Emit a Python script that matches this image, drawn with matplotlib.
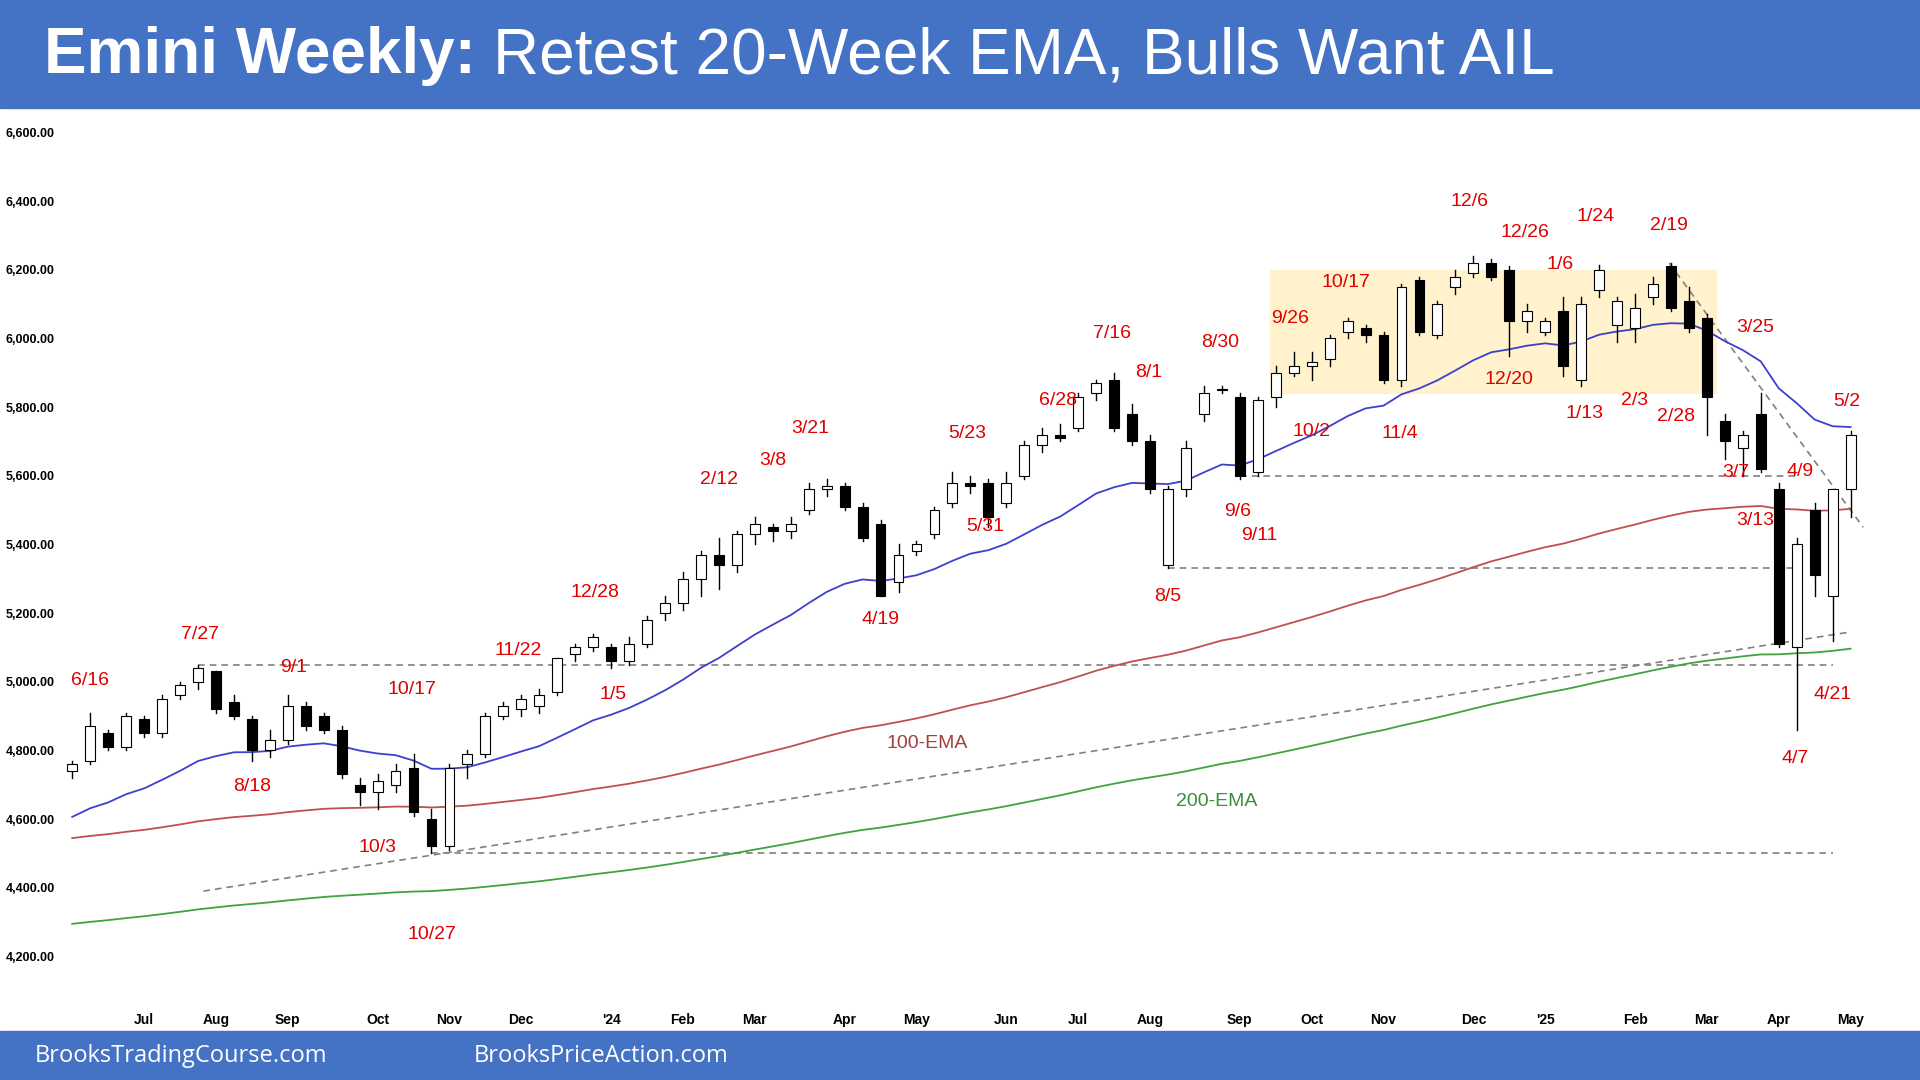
import numpy as np
import pandas as pd
import matplotlib
matplotlib.use("Agg")
import matplotlib.pyplot as plt
from matplotlib.patches import Rectangle

start_week = "2023-06-05"
opens = [4740,4770,4850,4810,4890,4850,4960,5000,5030,4940,4890,4800,4830,4930,4900,4860,4700,4680,4700,4750,
         4600,4520,4760,4790,4900,4920,4930,4970,5080,5100,5100,5060,5110,5200,5230,5300,5370,5340,5430,5450,
         5440,5500,5560,5570,5510,5460,5290,5380,5430,5520,5580,5580,5520,5600,5690,5720,5740,5840,5880,5780,
         5700,5340,5560,5780,5850,5830,5610,5830,5900,5920,5940,6020,6030,6010,5880,6170,6010,6150,6190,6220,
         6200,6050,6020,6080,5880,6140,6040,6030,6120,6210,6110,6060,5760,5680,5780,5560,5100,5500,5250,5560]
highs = [4770,4910,4860,4910,4900,4960,5000,5050,5030,4960,4900,4860,4960,4940,4910,4870,4720,4730,4760,4790,
         4630,4760,4800,4910,4940,4960,4980,5070,5110,5140,5110,5130,5190,5250,5320,5380,5420,5440,5480,5460,
         5480,5580,5590,5580,5520,5470,5400,5410,5510,5610,5600,5590,5610,5700,5740,5750,5840,5880,5900,5810,
         5720,5570,5700,5860,5860,5840,5830,5920,5960,5960,6010,6060,6040,6020,6160,6180,6110,6200,6240,6230,
         6210,6100,6060,6120,6120,6215,6120,6130,6180,6220,6150,6070,5780,5730,5840,5580,5420,5520,5560,5730]
lows = [4720,4760,4800,4800,4840,4840,4950,4980,4910,4890,4770,4780,4820,4860,4850,4720,4640,4630,4680,4610,
        4500,4510,4720,4780,4890,4900,4910,4960,5060,5090,5040,5050,5100,5180,5210,5250,5270,5320,5400,5410,
        5420,5490,5540,5500,5410,5250,5260,5370,5420,5510,5550,5450,5510,5590,5670,5700,5730,5820,5730,5690,
        5550,5330,5540,5760,5840,5590,5600,5800,5890,5880,5920,6000,5990,5870,5860,6010,6000,6130,6180,6170,
        5950,6020,6010,5890,5860,6120,5990,5990,6100,6080,6020,5720,5650,5600,5610,5100,4860,5250,5120,5480]
closes = [4760,4870,4810,4900,4850,4950,4990,5040,4920,4900,4800,4830,4930,4870,4860,4730,4680,4710,4740,4620,
          4520,4750,4790,4900,4930,4950,4960,5070,5100,5130,5060,5110,5180,5230,5300,5370,5340,5430,5460,5440,
          5460,5560,5570,5510,5420,5250,5370,5400,5500,5580,5570,5480,5580,5690,5720,5710,5830,5870,5740,5700,
          5560,5560,5680,5840,5850,5600,5820,5900,5920,5930,6000,6050,6010,5880,6150,6020,6100,6180,6220,6180,
          6050,6080,6050,5920,6100,6200,6110,6090,6160,6090,6030,5830,5700,5720,5620,5110,5400,5310,5560,5720]
ema_seeds = {20: 4590, 100: 4540, 200: 4290}
ytick_values = [4200,4400,4600,4800,5000,5200,5400,5600,5800,6000,6200,6400,6600]

labels = [("6/16",1.0,5003),("7/27",7.1,5138),("9/1",12.3,5042),("8/18",10.0,4696),("10/17",18.9,4978),
          ("10/3",17.0,4518),("10/27",20.0,4265),("11/22",24.8,5092),("12/28",29.1,5260),("1/5",30.1,4964),
          ("2/12",36.0,5588),("3/8",39.0,5645),("3/21",41.1,5737),("4/19",45.0,5181),("5/23",49.8,5723),
          ("5/31",50.8,5452),("6/28",54.9,5819),("7/16",57.9,6015),("8/1",59.9,5901),("8/30",63.9,5987),
          ("8/5",61.0,5249),("9/6",64.9,5495),("9/11",66.1,5427),("9/26",67.8,6058),("10/17",70.9,6162),
          ("10/2",69.0,5730),("11/4",73.9,5723),("12/6",77.8,6400),("12/26",80.9,6308),("12/20",80.0,5880),
          ("1/6",82.8,6215),("1/24",84.8,6354),("1/13",84.2,5780),("2/3",87.0,5819),("2/19",88.9,6329),
          ("2/28",89.3,5773),("3/25",93.7,6033),("3/7",92.6,5609),("3/13",93.7,5470),("4/9",96.2,5612),
          ("5/2",98.8,5816),("4/21",98.0,4964),("4/7",95.9,4775)]

def ema(vals, n, seed):
    a = 2/(n+1); out=[]; e=seed
    for v in vals:
        e = e + a*(v-e); out.append(e)
    return np.array(out)

N = len(closes)
x = np.arange(N)
dates = pd.date_range(start_week, periods=N, freq="7D") + pd.Timedelta(days=4)

fig = plt.figure(figsize=(19.2,10.8), dpi=100)
fig.patch.set_facecolor("white")
fig.add_artist(Rectangle((0,0.9),1,0.1,transform=fig.transFigure,color="#4472C4",zorder=0))
fig.add_artist(Rectangle((0,0),1,0.045,transform=fig.transFigure,color="#4472C4",zorder=0))
fig.text(0.023,0.948,"Emini Weekly:",color="white",fontsize=46,fontweight="bold",family="Liberation Sans",va="center")
fig.text(0.257,0.948,"Retest 20-Week EMA, Bulls Want AIL",color="white",fontsize=46,family="Liberation Sans",va="center")
fig.text(0.018,0.022,"BrooksTradingCourse.com",color="white",fontsize=17,family="Open Sans",va="center")
fig.text(0.247,0.022,"BrooksPriceAction.com",color="white",fontsize=17,family="Open Sans",va="center")

ax = fig.add_axes([0.032,0.07,0.944,0.828])
ax.set_xlim(-0.6,100.3)
ax.set_ylim(4060,6665)
for s in ax.spines.values(): s.set_visible(False)

ax.add_patch(Rectangle((66.7,5840),24.8,360,color="#FFF2CC",zorder=0))

ax.plot(x, ema(closes,20,ema_seeds[20]), color="#3F3FCF", lw=1.3, zorder=2)
ax.plot(x, ema(closes,100,ema_seeds[100]), color="#C0504D", lw=1.3, zorder=2)
ax.plot(x, ema(closes,200,ema_seeds[200]), color="#3FA33F", lw=1.3, zorder=2)

dk = dict(color="#808080", ls=(0,(4,3)), lw=1.2, zorder=1)
ax.plot([65,96],[5600,5600],**dk)
ax.plot([61,96],[5330,5330],**dk)
ax.plot([7,98],[5050,5050],**dk)
ax.plot([20,98],[4500,4500],**dk)
ax.plot([7.3,99],[4390,5145],**dk)
ax.plot([88.9,99.7],[6220,5450],**dk)

w = 0.55
for i in range(N):
    o,h,l,c = opens[i],highs[i],lows[i],closes[i]
    ax.plot([i,i],[l,h],color="black",lw=1,zorder=3)
    up = c >= o
    ax.add_patch(Rectangle((i-w/2,min(o,c)),w,max(abs(c-o),4),
                 facecolor="white" if up else "black",edgecolor="black",lw=0.8,zorder=4))

for t,xx,yy in labels:
    ax.text(xx,yy,t,color="#E00000",fontsize=14,ha="center",va="center",family="Liberation Sans",zorder=5)
ax.text(47.6,4821,"100-EMA",color="#A0403D",fontsize=14,ha="center",va="center",family="Liberation Sans")
ax.text(63.7,4650,"200-EMA",color="#3A8F3A",fontsize=14,ha="center",va="center",family="Liberation Sans")

ax.set_yticks(ytick_values)
ax.set_yticklabels([f"{v:,.2f}" for v in ytick_values], fontsize=9, fontweight="bold", family="Liberation Sans")
for lab in ax.get_yticklabels(): lab.set_horizontalalignment("left")
ax.yaxis.set_tick_params(length=0, pad=40)

tpos=[]; tlab=[]
for i,d in enumerate(dates):
    if i>0 and dates[i-1].month!=d.month:
        tpos.append(i)
        tlab.append("'"+d.strftime("%y") if d.month==1 else d.strftime("%b"))
ax.set_xticks(tpos)
ax.set_xticklabels(tlab, fontsize=10, fontweight="bold", family="Liberation Sans")
ax.xaxis.set_tick_params(length=0, pad=6)

fig.savefig("out.png", dpi=100)
